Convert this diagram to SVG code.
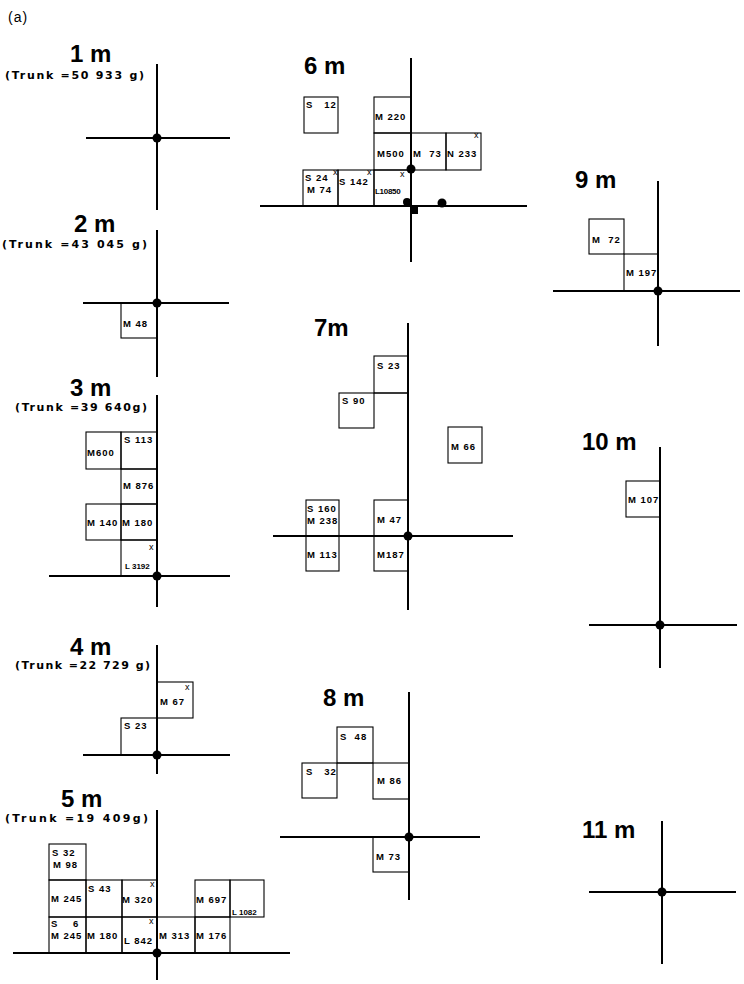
<svg xmlns="http://www.w3.org/2000/svg" width="744" height="984" viewBox="0 0 744 984">
<style>
.ax{stroke:#000;stroke-width:2;fill:none}
.bx{stroke:#000;stroke-width:1.1;fill:none}
.dot{fill:#000}
.tt{font-family:"Liberation Sans",Arial,sans-serif;font-weight:bold;font-size:24px;fill:#000}
.tr{font-family:"DejaVu Sans","Liberation Sans",Arial,sans-serif;font-weight:bold;font-size:11px;fill:#000}
.lb{font-family:"Liberation Sans",Arial,sans-serif;font-weight:bold;font-size:9.5px;letter-spacing:1px;fill:#000}
.sm{font-family:"Liberation Sans",Arial,sans-serif;font-weight:bold;font-size:8px;fill:#000}
.x{font-family:"Liberation Sans",Arial,sans-serif;font-size:9px;fill:#000}
</style>
<rect width="744" height="984" fill="#fff"/>
<text x="8" y="22" font-family="Liberation Sans, Arial, sans-serif" font-size="14" letter-spacing="1">(a)</text>

<g id="p1m">
<text class="tt" x="70" y="62">1 m</text>
<text class="tr" x="5" y="79" textLength="139" lengthAdjust="spacing">(Trunk =50 933 g)</text>
<line class="ax" x1="157" y1="64" x2="157" y2="210"/>
<line class="ax" x1="86" y1="138" x2="230" y2="138"/>
<circle class="dot" cx="157" cy="138" r="4.5"/>
</g>

<g id="p2m">
<text class="tt" x="74" y="232">2 m</text>
<text class="tr" x="2" y="248" textLength="145" lengthAdjust="spacing">(Trunk =43 045 g)</text>
<line class="ax" x1="157" y1="230" x2="157" y2="377"/>
<line class="ax" x1="83" y1="303" x2="229" y2="303"/>
<rect class="bx" x="121" y="303" width="36" height="35"/>
<text class="lb" x="123" y="327">M 48</text>
<circle class="dot" cx="157" cy="303" r="4.5"/>
</g>

<g id="p3m">
<text class="tt" x="70" y="396">3 m</text>
<text class="tr" x="15" y="411" textLength="132" lengthAdjust="spacing">(Trunk =39 640g)</text>
<line class="ax" x1="157" y1="395" x2="157" y2="607"/>
<line class="ax" x1="49" y1="576" x2="230" y2="576"/>
<rect class="bx" x="86" y="432" width="35" height="37"/>
<rect class="bx" x="121" y="432" width="36" height="37"/>
<rect class="bx" x="121" y="469" width="36" height="35"/>
<rect class="bx" x="86" y="504" width="35" height="36"/>
<rect class="bx" x="121" y="504" width="36" height="36"/>
<rect class="bx" x="121" y="540" width="36" height="36"/>
<text class="lb" x="87" y="456" letter-spacing="0">M600</text>
<text class="lb" x="124" y="443">S 113</text>
<text class="lb" x="123" y="489">M 876</text>
<text class="lb" x="87" y="526" letter-spacing="0.5">M 140</text>
<text class="lb" x="122" y="526" letter-spacing="0.5">M 180</text>
<text class="x" x="149" y="550">x</text>
<text class="sm" x="125" y="569">L 3192</text>
<circle class="dot" cx="157" cy="576" r="4.5"/>
</g>

<g id="p4m">
<text class="tt" x="70" y="655">4 m</text>
<text class="tr" x="15" y="669" textLength="135" lengthAdjust="spacing">(Trunk =22 729 g)</text>
<line class="ax" x1="157" y1="645" x2="157" y2="774"/>
<line class="ax" x1="83" y1="755" x2="230" y2="755"/>
<rect class="bx" x="157" y="682" width="36" height="36"/>
<rect class="bx" x="121" y="718" width="36" height="37"/>
<text class="x" x="185" y="690">x</text>
<text class="lb" x="160" y="705">M 67</text>
<text class="lb" x="124" y="729">S 23</text>
<circle class="dot" cx="157" cy="755" r="4.5"/>
</g>

<g id="p5m">
<text class="tt" x="61" y="807">5 m</text>
<text class="tr" x="5" y="822" textLength="143" lengthAdjust="spacing">(Trunk =19 409g)</text>
<line class="ax" x1="157" y1="810" x2="157" y2="980"/>
<line class="ax" x1="13" y1="953" x2="290" y2="953"/>
<rect class="bx" x="49" y="844" width="37" height="36"/>
<rect class="bx" x="49" y="880" width="37" height="37"/>
<rect class="bx" x="86" y="880" width="36" height="37"/>
<rect class="bx" x="122" y="880" width="35" height="37"/>
<rect class="bx" x="49" y="917" width="37" height="36"/>
<rect class="bx" x="86" y="917" width="36" height="36"/>
<rect class="bx" x="122" y="917" width="35" height="36"/>
<rect class="bx" x="157" y="917" width="38" height="36"/>
<rect class="bx" x="195" y="917" width="35" height="36"/>
<rect class="bx" x="195" y="880" width="35" height="37"/>
<rect class="bx" x="230" y="880" width="34" height="37"/>
<text class="lb" x="52" y="856">S 32</text>
<text class="lb" x="53" y="868">M 98</text>
<text class="lb" x="51" y="902" letter-spacing="0.5">M 245</text>
<text class="lb" x="88" y="892">S 43</text>
<text class="x" x="150" y="887">x</text>
<text class="lb" x="122" y="903" letter-spacing="0.5">M 320</text>
<text class="lb" x="51" y="927" xml:space="preserve">S    6</text>
<text class="lb" x="51" y="939" letter-spacing="0.3">M 245</text>
<text class="lb" x="87" y="939" letter-spacing="0.3">M 180</text>
<text class="x" x="149" y="924">x</text>
<text class="lb" x="124" y="944" letter-spacing="0.3">L 842</text>
<text class="lb" x="159" y="939" letter-spacing="0.6">M 313</text>
<text class="lb" x="196" y="939" letter-spacing="0.3">M 176</text>
<text class="lb" x="196" y="903" letter-spacing="0.3">M 697</text>
<text class="sm" x="232" y="915">L 1082</text>
<circle class="dot" cx="157" cy="953" r="4.5"/>
</g>

<g id="p6m">
<text class="tt" x="304" y="74">6 m</text>
<line class="ax" x1="411" y1="58" x2="411" y2="262"/>
<line class="ax" x1="260" y1="206" x2="527" y2="206"/>
<rect class="bx" x="304" y="97" width="34" height="36"/>
<rect class="bx" x="374" y="97" width="37" height="36"/>
<rect class="bx" x="374" y="133" width="37" height="37"/>
<rect class="bx" x="411" y="133" width="35" height="37"/>
<rect class="bx" x="446" y="133" width="35" height="37"/>
<rect class="bx" x="303" y="170" width="35" height="36"/>
<rect class="bx" x="338" y="170" width="36" height="36"/>
<rect class="bx" x="374" y="170" width="37" height="36"/>
<text class="lb" x="306" y="108" xml:space="preserve">S   12</text>
<text class="lb" x="375" y="120" letter-spacing="0.5">M 220</text>
<text class="lb" x="377" y="157" letter-spacing="0.5">M500</text>
<text class="lb" x="413" y="157" xml:space="preserve" letter-spacing="0.5">M  73</text>
<text class="lb" x="447" y="157" letter-spacing="0.2">N 233</text>
<text class="x" x="474" y="138">x</text>
<text class="lb" x="305" y="181" letter-spacing="0.5">S 24</text>
<text class="lb" x="307" y="193" letter-spacing="0.5">M 74</text>
<text class="x" x="333" y="175">x</text>
<text class="lb" x="339" y="185" letter-spacing="0.6">S 142</text>
<text class="x" x="367" y="175">x</text>
<text class="x" x="400" y="177">x</text>
<text class="sm" x="375" y="194" letter-spacing="-0.3">L10850</text>
<circle class="dot" cx="411" cy="169" r="4.5"/>
<circle class="dot" cx="407" cy="202" r="4"/>
<circle class="dot" cx="442" cy="203" r="4.5"/>
<rect class="dot" x="412" y="207" width="6" height="7"/>
</g>

<g id="p9m">
<text class="tt" x="575" y="188">9 m</text>
<line class="ax" x1="658" y1="181" x2="658" y2="346"/>
<line class="ax" x1="553" y1="291" x2="740" y2="291"/>
<rect class="bx" x="589" y="219" width="35" height="35"/>
<rect class="bx" x="624" y="254" width="34" height="37"/>
<text class="lb" x="592" y="243" xml:space="preserve">M  72</text>
<text class="lb" x="626" y="276" letter-spacing="0.3">M 197</text>
<circle class="dot" cx="658" cy="291" r="4.5"/>
</g>

<g id="p7m">
<text class="tt" x="314" y="336">7m</text>
<line class="ax" x1="408" y1="323" x2="408" y2="610"/>
<line class="ax" x1="273" y1="536" x2="513" y2="536"/>
<rect class="bx" x="374" y="356" width="34" height="37"/>
<rect class="bx" x="339" y="393" width="35" height="35"/>
<line class="bx" x1="374" y1="393" x2="408" y2="393"/>
<rect class="bx" x="448" y="427" width="34" height="36"/>
<rect class="bx" x="306" y="500" width="33" height="36"/>
<rect class="bx" x="306" y="536" width="33" height="35"/>
<rect class="bx" x="374" y="500" width="34" height="36"/>
<rect class="bx" x="374" y="536" width="34" height="35"/>
<text class="lb" x="377" y="369">S 23</text>
<text class="lb" x="342" y="404">S 90</text>
<text class="lb" x="451" y="450">M 66</text>
<text class="lb" x="307" y="512" letter-spacing="0.3">S 160</text>
<text class="lb" x="307" y="524" letter-spacing="0.3">M 238</text>
<text class="lb" x="307" y="558" letter-spacing="0.5">M 113</text>
<text class="lb" x="377" y="523">M 47</text>
<text class="lb" x="377" y="558" letter-spacing="0.2">M187</text>
<circle class="dot" cx="408" cy="536" r="4.5"/>
</g>

<g id="p10m">
<text class="tt" x="582" y="450">10 m</text>
<line class="ax" x1="660" y1="447" x2="660" y2="668"/>
<line class="ax" x1="589" y1="625" x2="737" y2="625"/>
<rect class="bx" x="626" y="481" width="34" height="36"/>
<text class="lb" x="628" y="503" letter-spacing="0.3">M 107</text>
<circle class="dot" cx="660" cy="625" r="4.5"/>
</g>

<g id="p8m">
<text class="tt" x="323" y="706">8 m</text>
<line class="ax" x1="409" y1="692" x2="409" y2="900"/>
<line class="ax" x1="280" y1="837" x2="480" y2="837"/>
<rect class="bx" x="337" y="727" width="36" height="36"/>
<rect class="bx" x="302" y="763" width="35" height="35"/>
<rect class="bx" x="373" y="763" width="36" height="36"/>
<line class="bx" x1="337" y1="763" x2="373" y2="763"/>
<rect class="bx" x="373" y="837" width="36" height="35"/>
<text class="lb" x="340" y="740" xml:space="preserve">S  48</text>
<text class="lb" x="306" y="775" xml:space="preserve">S   32</text>
<text class="lb" x="377" y="784">M 86</text>
<text class="lb" x="376" y="860">M 73</text>
<circle class="dot" cx="409" cy="837" r="4.5"/>
</g>

<g id="p11m">
<text class="tt" x="582" y="838">11 m</text>
<line class="ax" x1="662" y1="821" x2="662" y2="964"/>
<line class="ax" x1="589" y1="892" x2="736" y2="892"/>
<circle class="dot" cx="662" cy="892" r="4.5"/>
</g>
</svg>
